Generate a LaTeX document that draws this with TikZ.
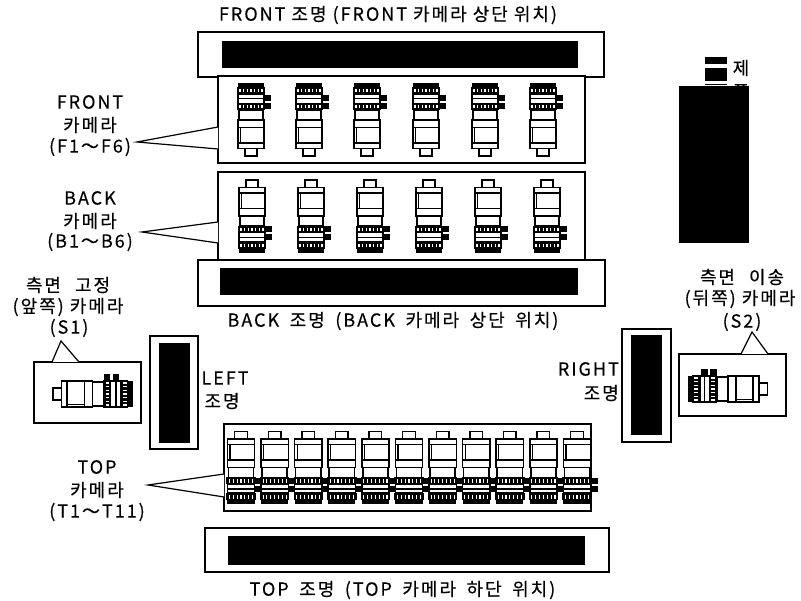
\documentclass[tikz,border=0pt]{standalone}
\usepackage{fontspec}
\newfontfamily\kr[LetterSpace=11,FakeBold=0.3]{Noto Sans CJK KR}
\newcommand{\hatchring}[1]{%
  \fill[black] (-14,#1) rectangle (14,#1+7);
  \foreach \tx in {-11,-7.3,-3.6,0,3.6,7.3,11}{\draw[white,line width=1.1pt] (\tx,#1+1.6) -- (\tx,#1+5);}
}
\newcommand{\wavy}{\char"FF5E }
\newcommand{\wgap}{\hspace{4.5pt} }
\tikzset{
  x=1pt,y=-1pt,
  outl/.style={draw=black,line width=1.5pt,line join=miter},
  plainbox/.style={draw=black,line width=1.3pt,fill=white,inner sep=0pt,minimum width=#1},
  lamp/.style={fill=black,inner sep=0pt},
  lbl/.style={font=\kr\fontsize{18}{20}\selectfont,inner sep=0pt,align=center},
  cam/.pic={
    \draw[outl,fill=white] (-6,28) rectangle (6,36.5);
    \draw[outl,fill=white] (-13,0.5) rectangle (13,29);
    \draw[outl] (-13,8) -- (13,8);
    \draw[outl,line width=1.9pt] (-13,23.5) -- (13,23.5);
    \draw[outl,line width=1.1pt] (-10.5,8) -- (-10.5,23.5);
    \draw[outl,fill=white] (-12,-9.5) rectangle (12,0.5);
    \fill[black] (12,-16) rectangle (20,-10);
    \fill[black] (12,-24) rectangle (20,-18);
    \draw[outl,fill=white] (-13,-25) rectangle (13,-16);
    \draw[outl] (-13,-21) -- (13,-21);
    \fill[black] (-13,-36.5) rectangle (13,-31);
    \hatchring{-16.5}
    \hatchring{-32.5}
  },
}
\begin{document}
\begin{tikzpicture}
\useasboundingbox (0,0) rectangle (801,601);
% lamps
\node[plainbox=406pt,minimum height=45pt] (frontlamp) at (401,54.5) {};
\node[lamp,minimum width=356pt,minimum height=27pt] (frontcore) at (400,54.5) {};
\node[plainbox=407pt,minimum height=46pt] (backlamp) at (401.5,283) {};
\node[lamp,minimum width=358pt,minimum height=27pt] (backcore) at (399,281.5) {};
\node[plainbox=404pt,minimum height=44pt] (toplamp) at (407,550) {};
\node[lamp,minimum width=357pt,minimum height=29pt] (topcore) at (406.5,550.5) {};
\node[plainbox=48pt,minimum height=113pt] (leftlamp) at (174,392.5) {};
\node[lamp,minimum width=31pt,minimum height=100pt] (leftcore) at (174.5,393) {};
\node[plainbox=49pt,minimum height=113pt] (rightlamp) at (646.5,385.5) {};
\node[lamp,minimum width=31pt,minimum height=100pt] (rightcore) at (646.5,385) {};
% camera boxes
\node[plainbox=367pt,minimum height=87pt] (frontbox) at (401.5,119.5) {};
\node[plainbox=367pt,minimum height=88pt] (backbox) at (401.5,216) {};
\node[plainbox=367pt,minimum height=87pt] (topbox) at (407.5,467.5) {};
\node[plainbox=107pt,minimum height=61pt] (sonebox) at (87.5,392.5) {};
\node[plainbox=107pt,minimum height=62pt] (stwobox) at (732.5,385) {};
% pointers
\coordinate (ftip) at (137,142); \coordinate (fa) at (218,127); \coordinate (fb) at (218,149);
\coordinate (btip) at (142,232); \coordinate (ba) at (218,222); \coordinate (bb) at (218,243);
\coordinate (ttip) at (148,485); \coordinate (ta) at (224,474); \coordinate (tb) at (224,497);
\coordinate (sa) at (52,362); \coordinate (stip) at (61,341); \coordinate (sb) at (79,362);
\coordinate (ra) at (741,354); \coordinate (rtip) at (752,332); \coordinate (rb) at (768,354);
\foreach \a/\t/\b in {fa/ftip/fb,ba/btip/bb,ta/ttip/tb,sa/stip/sb,ra/rtip/rb}{
  \fill[white] (\a) -- (\t) -- (\b) -- cycle;
  \draw[line width=1.2pt,line join=miter] (\a) -- (\t) -- (\b);
}
% cameras
\foreach \cx in {251,309,367,426,485,543}{\pic at (\cx,119.5) {cam};}
\foreach \cx in {252,311,370,429,488,547}{\pic[yscale=-1] at (\cx,216.5) {cam};}
\foreach \i in {0,...,10}{\pic[yscale=-1,xscale=1.05] at ({241+33.6*\i},468) {cam};}
\pic[cm={0,1,1,0,(0,0)},yscale=1.09] at (93,394) {cam};
\pic[rotate=90,yscale=1.09] at (727.5,389) {cam};
% legend
\node[lbl] (legendone) at (741,68) {제};
\node[lbl] (legendtwo) at (741,92) {품};
\fill[black] (705,57) rectangle (727,64);
\fill[black] (705,68) rectangle (727,81);
\draw[line width=1pt] (705,85) -- (727,85);
\node[lamp,minimum width=70pt,minimum height=157pt] (legendblock) at (714,164.5) {};
% labels
\node[lbl] (t1) at (388,15) {FRONT 조명 (FRONT 카메라 상단 위치)};
\node[lbl] (t2) at (393,321) {BACK\wgap 조명\wgap (BACK\wgap 카메라\wgap 상단\wgap 위치)};
\node[lbl] (t3) at (402.5,590) {TOP\wgap 조명\wgap (TOP\wgap 카메라\wgap 하단\wgap 위치)};
\node[lbl] (l1) at (90,102) {FRONT};
\node[lbl] (l2) at (90,125) {카메라};
\node[lbl] (l3) at (90,147) {(F1\wavy F6)};
\node[lbl] (l4) at (90,198) {BACK};
\node[lbl] (l5) at (90,221) {카메라};
\node[lbl] (l6) at (90,242) {(B1\wavy B6)};
\node[lbl] (l7) at (97,467) {TOP};
\node[lbl] (l8) at (97,490) {카메라};
\node[lbl] (l9) at (97,512) {(T1\wavy T11)};
\node[lbl] (s1) at (68,285) {측면\hspace{8pt} 고정};
\node[lbl] (s2) at (68,307) {(앞쪽) 카메라};
\node[lbl] (s3) at (69,328) {(S1)};
\node[lbl] (r1) at (742,277) {측면\hspace{8pt} 이송};
\node[lbl] (r2) at (740,299) {(뒤쪽) 카메라};
\node[lbl] (r3) at (742,322) {(S2)};
\node[lbl] (ll1) at (225,378) {LEFT};
\node[lbl] (ll2) at (222,401) {조명};
\node[lbl,anchor=east] (rl1) at (619,369) {RIGHT};
\node[lbl,anchor=east] (rl2) at (619,393) {조명};
\end{tikzpicture}
\end{document}
